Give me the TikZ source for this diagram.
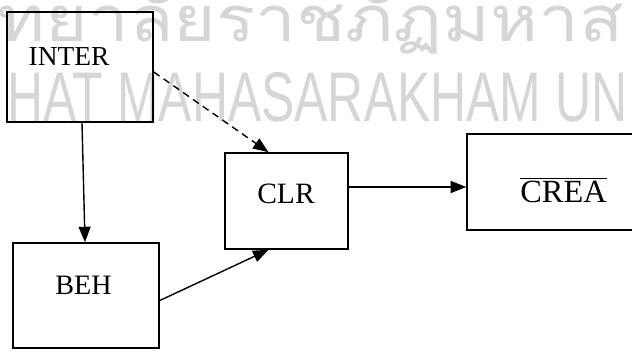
\documentclass[tikz,border=0pt]{standalone}
\usepackage{fontspec}
\setmainfont{Liberation Serif}
\newfontfamily\wmfont{Liberation Sans}
\newfontfamily\thaifont[Script=Thai]{Loma}
\usepackage{tikz}
\usetikzlibrary{positioning}
\usetikzlibrary{calc}
\usetikzlibrary{arrows.meta}

\begin{document}
\begin{tikzpicture}[x=0.025cm,y=-0.025cm,
  box/.style={draw,line width=1.1pt,inner sep=0pt},
  lbl/.style={anchor=base,inner sep=0pt},
  arr/.style={line width=1pt,-{Triangle[length=11pt,width=8.5pt]}},
  wm/.style={black!16,inner sep=0pt}]
\useasboundingbox (0,0) rectangle (632,351);
\clip (0,0) rectangle (632,351);
% watermark behind everything
\node[wm,anchor=base east,xscale=1.15] (wmth) at (624,41) {\fontsize{45}{45}\thaifont วิทยาลัยราชภัฏมหาส};
\node[wm,anchor=base west,xscale=0.71] (wmen) at (7,121) {\fontsize{50}{50}\wmfont HAT MAHASARAKHAM UN};
% boxes
\node[box,minimum width=3.65cm,minimum height=2.75cm] (inter) at (80,67) {};
\node[box,minimum width=3.65cm,minimum height=2.625cm] (beh) at (86,295.5) {};
\node[box,minimum width=3.075cm,minimum height=2.4cm] (clr) at (286.5,201) {};
\node[box,minimum width=5.35cm,minimum height=2.4cm] (crea) at (574,182) {};
% texts
\node[lbl] (interT) at (69,65) {\fontsize{19.5}{20}\selectfont INTER};
\node[lbl] (behT) at (83.5,294) {\fontsize{20}{20}\selectfont BEH};
\node[lbl] (clrT) at (286,203) {\fontsize{21}{22}\selectfont CLR};
\node[lbl] (creaT) at (563.5,202) {\fontsize{23}{24}\selectfont $\overline{\mbox{CREA}}$};
% arrows
\draw[arr,dash pattern=on 5pt off 3.5pt] ($(inter.east)+(0,5)$) -- ($(clr.north)+(-18,0)$);
\draw[arr] ($(inter.south)+(2,0)$) -- ($(beh.north)+(-1,0)$);
\draw[arr] ($(beh.east)+(0,5)$) -- ($(clr.south)+(-18,0)$);
\coordinate (c1) at ($(clr.east)+(0,-14)$);
\draw[arr] (c1) -- (c1 -| crea.west);
\end{tikzpicture}
\end{document}
